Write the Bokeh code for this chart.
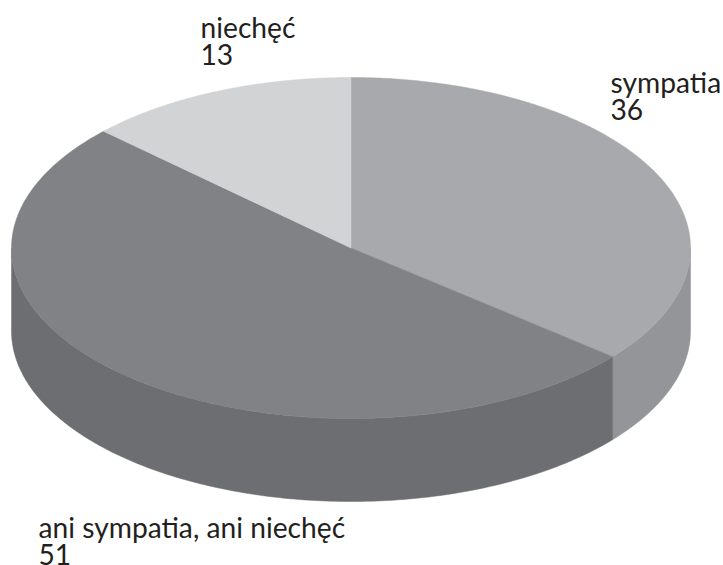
import numpy as np
from bokeh.plotting import figure
from bokeh.models import Range1d
from bokeh.core.properties import value
from bokeh.embed import file_html
from bokeh.resources import INLINE

categories = ["sympatia", "ani sympatia, ani niechęć", "niechęć"]
values = [36, 51, 13]
top_colors = ["#a7a9ac", "#808285", "#d1d3d4"]
side_colors = ["#939598", "#6d6e71", "#b0b2b5"]

CX, CY, RX, RY, DEPTH = 350.5, 247.5, 339.5, 170.5, 83
label_x = [610, 38, 200]
label_y = [81, 526, 26]
line_gap = 28
FONT = "Lato"
FONT_SIZE = "28.2px"

p = figure(width=723, height=565, output_backend="svg", toolbar_location=None,
           x_range=Range1d(0, 723), y_range=Range1d(565, 0), min_border=0,
           outline_line_color=None, background_fill_color="white")
p.axis.visible = False
p.grid.visible = False

fractions = np.array(values, dtype=float) / sum(values)
edges = np.concatenate([[0], np.cumsum(fractions)]) * 2 * np.pi


def pt(theta, dy=0.0):
    return CX + RX * np.sin(theta), CY - RY * np.cos(theta) + dy


# side walls: only the part of each slice that faces the viewer (pi/2 .. 3pi/2)
for a, b, col in zip(edges[:-1], edges[1:], side_colors):
    lo, hi = max(a, np.pi / 2), min(b, 3 * np.pi / 2)
    if lo >= hi:
        continue
    th = np.linspace(lo, hi, 160)
    x0, y0 = pt(th)
    x1, y1 = pt(th[::-1], DEPTH)
    p.patch(np.concatenate([x0, x1]), np.concatenate([y0, y1]),
            fill_color=col, line_color=col, line_width=0.5)

# top slices
for a, b, col in zip(edges[:-1], edges[1:], top_colors):
    th = np.linspace(a, b, 240)
    x, y = pt(th)
    p.patch(np.concatenate([[CX], x]), np.concatenate([[CY], y]),
            fill_color=col, line_color=col, line_width=0.5)

# labels
for name, v, lx, ly in zip(categories, values, label_x, label_y):
    p.text([lx, lx], [ly, ly + line_gap], text=[name, str(v)],
           text_font=value(FONT), text_font_size=value(FONT_SIZE),
           text_color="#231f20", text_align="left", text_baseline="alphabetic")

open("out.html", "w").write(file_html(p, INLINE))
